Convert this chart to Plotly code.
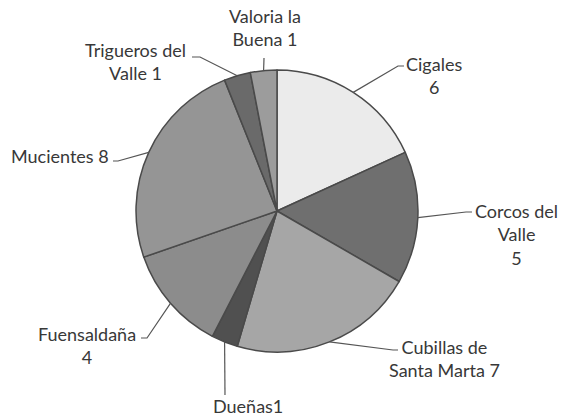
import math
import plotly.graph_objects as go

# ---- data ----
labels = ["Cigales", "Corcos del Valle", "Cubillas de Santa Marta", "Dueñas",
          "Fuensaldaña", "Mucientes", "Trigueros del Valle", "Valoria la Buena"]
values = [6, 5, 7, 1, 4, 8, 1, 1]
label_texts = ["Cigales<br>6", "Corcos del<br>Valle<br>5", "Cubillas de<br>Santa Marta 7",
               "Dueñas1", "Fuensaldaña<br>4", "Mucientes 8",
               "Trigueros del<br>Valle 1", "Valoria la<br>Buena 1"]

# ---- style / layout ----
W, H = 561, 416
CX, CY, R = 277, 211, 141
colors = ["#ebebeb", "#6f6f6f", "#a6a6a6", "#505050", "#8c8c8c", "#959595", "#6a6a6a", "#9c9c9c"]
# label centre positions (px) and leader elbow/end points (px)
label_pos = [(434, 75), (516, 234), (444, 358), (248, 406), (87, 345), (60, 156), (135, 61), (265, 28)]
leader_pts = [[(398, 66), (404, 66)],
              [(466, 212), (472, 212)],
              [(393, 350), (398, 350)],
              [(225, 395)],
              [(147, 338), (141, 338)],
              [(118, 161), (113, 161)],
              [(200, 57), (192, 57)],
              [(264, 58)]]

def px(x, y):
    return x / W, (H - y) / H

fig = go.Figure(go.Pie(
    labels=labels, values=values, sort=False, direction="clockwise", rotation=0,
    marker=dict(colors=colors, line=dict(color="#4a4a4a", width=1.5)),
    textinfo="none", hoverinfo="label+value", showlegend=False,
    domain=dict(x=[(CX - R) / W, (CX + R) / W], y=[(H - CY - R) / H, (H - CY + R) / H]),
))

total = sum(values)
cum = 0
shapes, annotations = [], []
for v, txt, (lx, ly), pts in zip(values, label_texts, label_pos, leader_pts):
    mid = (cum + v / 2) / total * 2 * math.pi
    cum += v
    ex = CX + R * math.sin(mid)
    ey = CY - R * math.cos(mid)
    path_pts = [(ex, ey)] + pts
    d = "M " + " L ".join(f"{px(x, y)[0]:.5f},{px(x, y)[1]:.5f}" for x, y in path_pts)
    shapes.append(dict(type="path", xref="paper", yref="paper", path=d,
                       line=dict(color="#555555", width=1.2)))
    ax, ay = px(lx, ly)
    annotations.append(dict(x=ax, y=ay, xref="paper", yref="paper", text=txt,
                            showarrow=False, xanchor="center", yanchor="middle", align="center",
                            font=dict(family="Lato", size=18, color="#383838")))

fig.update_layout(width=W, height=H, margin=dict(l=0, r=0, t=0, b=0),
                  paper_bgcolor="white", plot_bgcolor="white",
                  shapes=shapes, annotations=annotations)
fig.write_html("out.html", config={"displayModeBar": False},
               post_script="document.body.style.margin='0';")
